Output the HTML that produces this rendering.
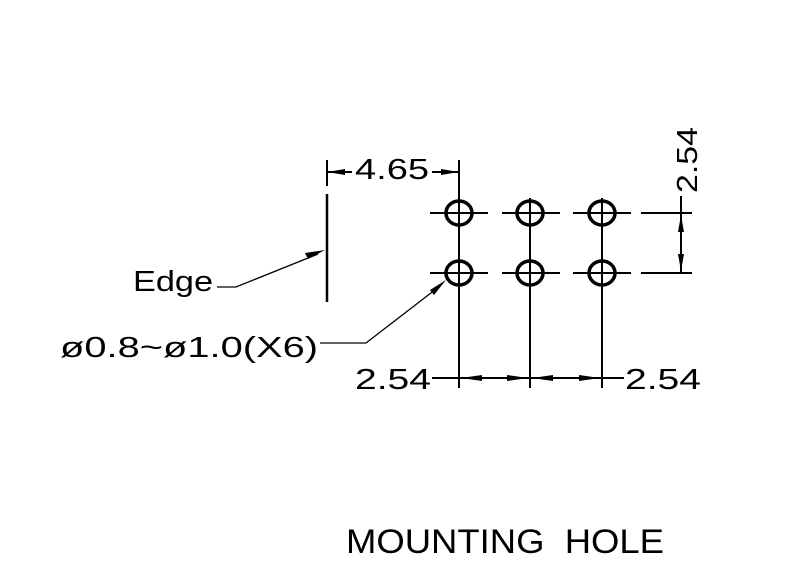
<!DOCTYPE html>
<html><head><meta charset="utf-8"><style>body{margin:0;background:#fff}svg{display:block}</style></head><body>
<svg width="800" height="576" viewBox="0 0 800 576" xmlns="http://www.w3.org/2000/svg" font-family="Liberation Sans, sans-serif">
<g stroke="#000" fill="none" stroke-width="2">
  <line x1="430" y1="213" x2="488" y2="213"/><line x1="502" y1="213" x2="560" y2="213"/><line x1="573" y1="213" x2="631" y2="213"/><line x1="641" y1="213" x2="692" y2="213"/>
  <line x1="430" y1="273" x2="488" y2="273"/><line x1="502" y1="273" x2="560" y2="273"/><line x1="573" y1="273" x2="631" y2="273"/><line x1="641" y1="273" x2="692" y2="273"/>
  <line x1="459" y1="160" x2="459" y2="388"/>
  <line x1="530" y1="198" x2="530" y2="388"/>
  <line x1="602" y1="198" x2="602" y2="388"/>
  <line x1="327" y1="194" x2="327" y2="302" stroke-width="2.5"/>
  <line x1="327" y1="160" x2="327" y2="186"/>
  <line x1="327" y1="172" x2="352" y2="172"/><line x1="432" y1="172" x2="459" y2="172"/>
  <line x1="681" y1="196" x2="681" y2="273"/>
  <line x1="432" y1="378" x2="624" y2="378"/>
  <g stroke-width="3.5">
    <ellipse cx="459" cy="213" rx="13" ry="12"/><ellipse cx="530" cy="213" rx="13" ry="12"/><ellipse cx="602" cy="213" rx="13" ry="12"/>
    <ellipse cx="459" cy="273" rx="13" ry="12"/><ellipse cx="530" cy="273" rx="13" ry="12"/><ellipse cx="602" cy="273" rx="13" ry="12"/>
  </g>
  <polyline points="217,287 236,287 318,254" stroke-width="1.3"/>
  <polyline points="320,343 366,343 440,286" stroke-width="1.3"/>
</g>
<g fill="#000">
  <polygon points="327,172 345,169 345,175"/><polygon points="459,172 441,169 441,175"/>
  <polygon points="681,215 678,232 684,232"/><polygon points="681,271 678,254 684,254"/>
  <polygon points="461,378 482,375 482,381"/><polygon points="528,378 507,375 507,381"/>
  <polygon points="532,378 553,375 553,381"/><polygon points="600,378 579,375 579,381"/>
  <polygon points="325,250 305,253 308,259"/>
  <polygon points="446,280 430,290 434,295"/>
</g>
<g font-size="29" fill="#000">
  <text x="355" y="179" textLength="74" lengthAdjust="spacingAndGlyphs">4.65</text>
  <text x="355" y="389" textLength="76" lengthAdjust="spacingAndGlyphs">2.54</text>
  <text x="625" y="389" textLength="76" lengthAdjust="spacingAndGlyphs">2.54</text>
  <text transform="translate(697,193) rotate(-90)" textLength="66" lengthAdjust="spacingAndGlyphs">2.54</text>
  <text x="133" y="291" textLength="80" lengthAdjust="spacingAndGlyphs">Edge</text>
  <text x="60" y="357" textLength="258" lengthAdjust="spacingAndGlyphs">ø0.8~ø1.0(X6)</text>
  <text x="346" y="553" font-size="34" textLength="318" lengthAdjust="spacingAndGlyphs">MOUNTING&#160; HOLE</text>
</g>
</svg>
</body></html>
